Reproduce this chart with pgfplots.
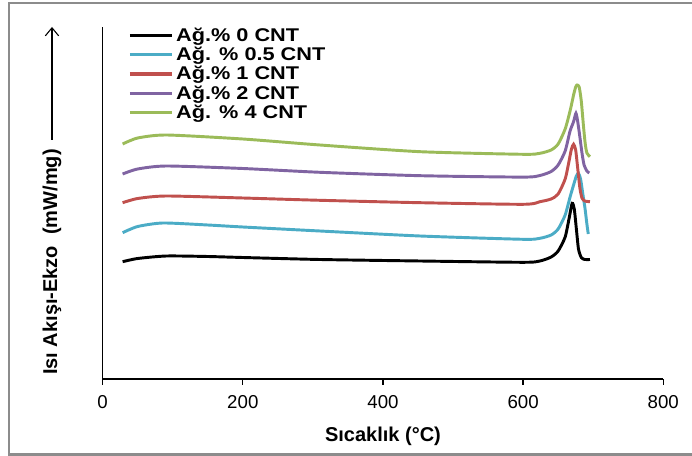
\documentclass[border=0pt]{standalone}
\usepackage{fontspec}
\setmainfont{Liberation Sans}
\newfontfamily\legfont[FakeStretch=1.18]{Liberation Sans}
\usepackage{pgfplots}
\pgfplotsset{compat=1.18}
\usetikzlibrary{arrows.meta}
\definecolor{c0}{RGB}{0,0,0}
\definecolor{c1}{RGB}{75,172,198}
\definecolor{c2}{RGB}{192,80,77}
\definecolor{c3}{RGB}{128,100,162}
\definecolor{c4}{RGB}{155,187,89}
\definecolor{framec}{RGB}{140,140,140}
\begin{document}
\begin{tikzpicture}
\useasboundingbox (-77pt,-57.75pt) rectangle (442pt,284.25pt);
\clip (-77pt,-57.75pt) rectangle (442pt,284.25pt);
\fill[white] (-77pt,-57.75pt) rectangle (442pt,284.25pt);
\draw[framec, line width=2pt] (470pt,282pt) -- (-70.3pt,282pt) -- (-70.3pt,-56.6pt) -- (470pt,-56.6pt);
\begin{axis}[
  scale only axis, width=420.45pt, height=264pt,
  at={(0pt,0pt)}, anchor=south west,
  xmin=0, xmax=800, ymin=0, ymax=352,
  axis x line=bottom, axis y line=left,
  axis line style={-, line width=1pt, black},
  xtick={0,200,...,800}, ytick=\empty,
  tick align=outside, major tick length=4.5pt,
  tick style={line width=1pt, black},
  /pgf/number format/assume math mode=true,
  ticklabel style={font=\fontsize{14}{14}\selectfont},
  xticklabel style={yshift=-4.5pt},
  xlabel={Sıcaklık (°C)},
  xlabel style={font=\bfseries\fontsize{15}{15}\selectfont, at={(axis description cs:0.5,-0.162)}, anchor=center},
  legend style={draw=none, fill=none, at={(axis description cs:0.045,1.0)}, anchor=north west,
    font=\legfont\bfseries\fontsize{13.8}{13.8}\selectfont, inner sep=0pt, row sep=3.2pt, column sep=2pt,
    nodes={inner sep=0pt, text height=10.5pt, text depth=0.8pt}},
  legend cell align=left,
  legend image code/.code={\draw[#1, line width=2.5pt] (0pt,-0.5pt) -- (31.5pt,-0.5pt);},
  every axis plot/.append style={line width=2.2pt, smooth, tension=0.4},
]
\addplot[c0] coordinates {(28.5,117.3) (50,120.5) (91,123) (150,122.5) (200,121.5) (310,119.5) (453,118) (600,116.7) (624,118) (640,122) (650,128) (660,142) (666,162) (670,175.7) (673,170) (676,150) (679,130) (683,121.5) (688,119.5) (695.4,119.5)};
\addplot[c1] coordinates {(28.5,146.3) (50,152.5) (86,156) (150,154) (200,152) (310,148) (453,143) (600,139.7) (624,140.7) (640,144) (650,150) (660,164) (667,182) (672,194) (676,203) (679,205.7) (682,200) (685,186) (688.3,170.7) (691,155) (693,145)};
\addplot[c2] coordinates {(28.5,176.3) (50,180.5) (91,183) (200,181) (310,178.7) (453,176.3) (600,174.7) (624,177.3) (640,180) (650,185) (660,200) (665,216) (669,230) (672,234.7) (675,229) (678,210) (681,191) (684,181) (688,178) (695.4,177.3)};
\addplot[c3] coordinates {(28.5,205) (50,210) (91,213) (200,210.5) (310,206.7) (453,203.3) (600,201.9) (624,203.5) (640,207.5) (650,214) (660,228) (667,248) (672,257.3) (675.4,265.7) (678,257) (681,242) (684,226) (687,214) (691,208) (694.4,206)};
\addplot[c4] coordinates {(28.5,235) (50,241) (91,244) (200,240) (310,234) (453,227.3) (600,224.7) (624,225.7) (640,229) (650,235) (660,250) (667,268) (672,284) (675,292) (677,294) (680,292) (683,278) (686,254) (688.5,236) (691,226) (695.4,222.3)};
\legend{Ağ.\% 0 CNT, Ağ. \% 0.5 CNT, Ağ.\% 1 CNT, Ağ.\% 2 CNT, Ağ. \% 4 CNT}
\end{axis}
\node[rotate=90, font=\bfseries\fontsize{15}{15}\selectfont] at (-38pt,87.75pt) {Isı Akışı-Ekzo\ \ (mW/mg)};
\draw[line width=0.8pt, -{Straight Barb[length=6pt,width=10pt]}] (-38pt,179.25pt) -- (-38pt,264pt);
\end{tikzpicture}
\end{document}
